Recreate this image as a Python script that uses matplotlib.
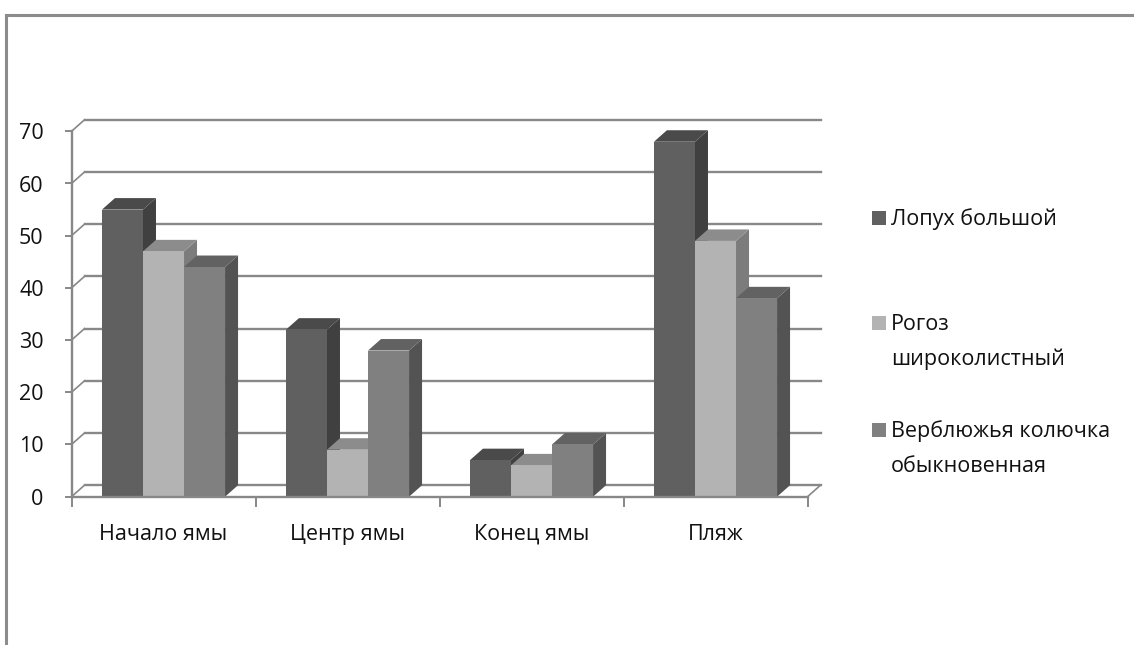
import matplotlib.pyplot as plt
from matplotlib.patches import Polygon, Rectangle
from matplotlib.lines import Line2D

plt.rcParams['font.family'] = ['Open Sans', 'DejaVu Sans']

# data
categories = ["Начало ямы", "Центр ямы", "Конец ямы", "Пляж"]
series_names = ["Лопух большой", "Рогоз\nшироколистный", "Верблюжья колючка\nобыкновенная"]
lopukh = [55, 32, 7, 68]
rogoz = [47, 9, 6, 49]
verblyud = [44, 28, 10, 38]
yticks = [0, 10, 20, 30, 40, 50, 60, 70]

series = [lopukh, rogoz, verblyud]
# front, top, side shades for each series
shades = [("#606060", "#4a4a4a", "#404040"),
          ("#b3b3b3", "#8c8c8c", "#7c7c7c"),
          ("#808080", "#626262", "#535353")]
grid_col = "#888888"
txt_col = "#111111"
fs = 15.5

W, H = 1134, 645
fig = plt.figure(figsize=(W / 100, H / 100), dpi=100)
ax = fig.add_axes([71.5 / W, 1 - 496.7 / H, 736 / W, 365.4 / H])
ax.set_xlim(0, len(categories))
ax.set_ylim(0, 70)

# depth of the 3d box in pixels -> data units
px_x = len(categories) / 736
px_y = 70 / 365.4
dx, dy = 13 * px_x, 11.5 * px_y

# back wall grid + side wall diagonals
for v in yticks:
    ax.add_line(Line2D([dx, len(categories) + dx], [v + dy, v + dy], color=grid_col,
                       lw=1.7, clip_on=False, zorder=1))
    ax.add_line(Line2D([0, dx], [v, v + dy], color=grid_col, lw=1.2, clip_on=False, zorder=1))
# floor right edge
ax.add_line(Line2D([len(categories), len(categories) + dx], [0, dy], color=grid_col,
                   lw=1.2, clip_on=False, zorder=1))

bw = 0.223
for i in range(len(categories)):
    x0 = i + 0.5 - 1.5 * bw
    for k, vals in enumerate(series):
        v = vals[i]
        front, top, side = shades[k]
        xl = x0 + k * bw
        xr = xl + bw
        ax.add_patch(Polygon([(xr, 0), (xr, v), (xr + dx, v + dy), (xr + dx, dy)],
                             closed=True, fc=side, ec="none", clip_on=False, zorder=2))
        ax.add_patch(Polygon([(xl, v), (xl + dx, v + dy), (xr + dx, v + dy), (xr, v)],
                             closed=True, fc=top, ec="none", clip_on=False, zorder=2))
        ax.bar(xl, v, width=bw, align="edge", color=front, edgecolor="none",
               clip_on=False, zorder=2)

for s in ["top", "right"]:
    ax.spines[s].set_visible(False)
for s in ["left", "bottom"]:
    ax.spines[s].set_color(grid_col)
    ax.spines[s].set_linewidth(1.7)
    ax.spines[s].set_zorder(3)

ax.set_yticks(yticks)
ax.set_yticklabels([str(t) for t in yticks])
ax.tick_params(axis="y", length=5, width=1.4, color=grid_col, pad=15,
               labelsize=fs, labelcolor=txt_col)
ax.set_xticks(range(len(categories) + 1))
ax.set_xticklabels([""] * (len(categories) + 1))
ax.tick_params(axis="x", which="major", length=7, width=1.4, color=grid_col)
ax.patch.set_visible(False)

# category names, all on one baseline
for i, name in enumerate(categories):
    ax.annotate(name, xy=(i + 0.5, 0), xycoords=("data", "axes fraction"),
                xytext=(0, -31), textcoords="offset points", ha="center",
                va="baseline", fontsize=fs, color=txt_col, annotation_clip=False)

# legend, one text per line so the square sits on the first line
leg_rows = [218, 323, 430]
line_step = 34
for name, (front, _, _), yr in zip(series_names, shades, leg_rows):
    fig.patches.append(Rectangle((872 / W, 1 - (yr + 7) / H), 14 / W, 14 / H,
                                 transform=fig.transFigure, fc=front, ec="none"))
    for j, line in enumerate(name.split("\n")):
        fig.text(891 / W, 1 - (yr + 7.5 + j * line_step) / H, line, ha="left",
                 va="baseline", fontsize=fs, color=txt_col)

# outer chart frame (partly cut off)
fig.add_artist(Line2D([6 / W, 1], [1 - 15 / H, 1 - 15 / H], transform=fig.transFigure,
                      color="#8c8c8c", lw=2.2))
fig.add_artist(Line2D([6 / W, 6 / W], [0, 1 - 15 / H], transform=fig.transFigure,
                      color="#8c8c8c", lw=2.2))

fig.savefig("out.png", dpi=100)
